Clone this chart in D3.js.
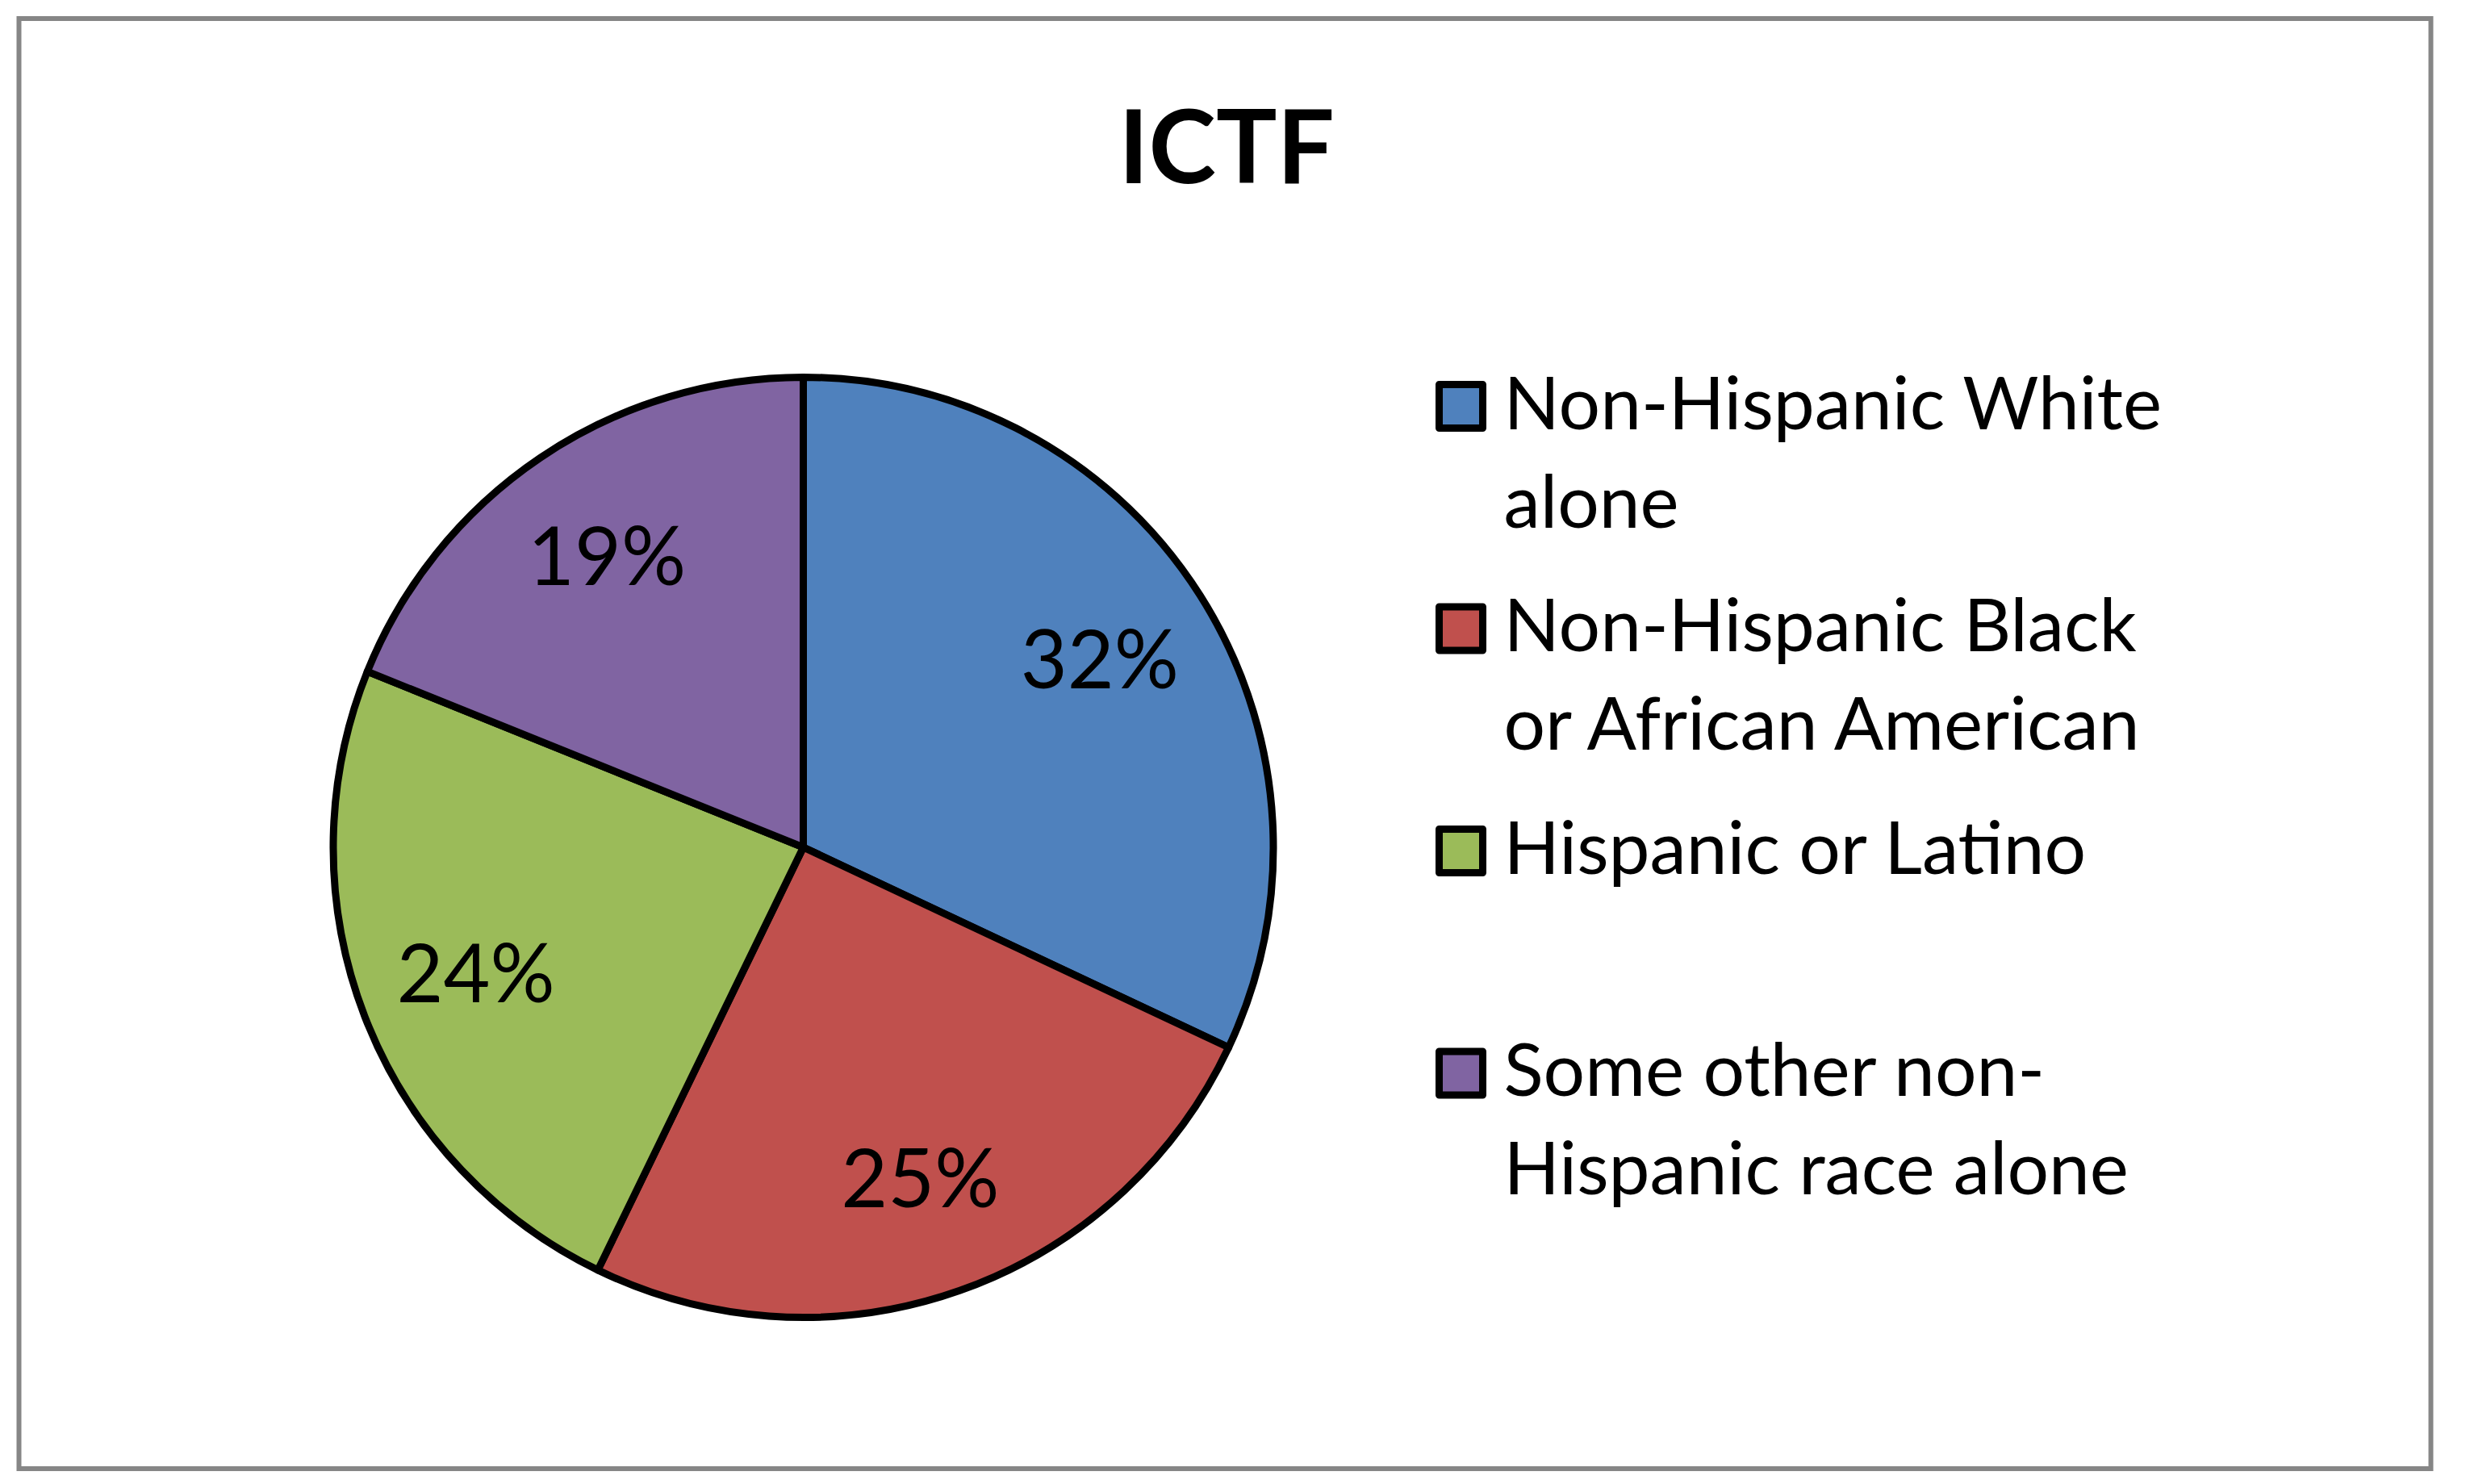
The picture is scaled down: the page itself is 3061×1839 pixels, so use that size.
<!DOCTYPE html>
<html lang="en">
<head>
    <meta charset="UTF-8">
    <title>ICTF</title>
    <script src="https://d3js.org/d3.v7.min.js"></script>
    <style>
        body { margin: 0; background: #fff; }
        text { font-family: Lato, "Open Sans", sans-serif; fill: #000; }
    </style>
</head>
<body>
    <svg width="3061" height="1839"></svg>
    <script>
        // data
        const title = 'ICTF';
        const categories = [
            'Non-Hispanic White alone',
            'Non-Hispanic Black or African American',
            'Hispanic or Latino',
            'Some other non-Hispanic race alone'
        ];
        const legendLines = [
            ['Non-Hispanic White', 'alone'],
            ['Non-Hispanic Black', 'or African American'],
            ['Hispanic or Latino'],
            ['Some other non-', 'Hispanic race alone']
        ];
        const shares = [32.0, 25.2, 23.9, 18.9];
        const colors = ['#4F81BD', '#C0504D', '#9BBB59', '#8064A2'];

        const svg = d3.select('svg');
        const data = categories.map((c, i) => ({ name: c, value: shares[i], lines: legendLines[i] }));
        const total = d3.sum(shares);
        const pct = d3.format('.0%');

        // chart area border
        svg.append('rect')
            .attr('x', 23.5).attr('y', 23)
            .attr('width', 2989).attr('height', 1797)
            .attr('fill', '#fff')
            .attr('stroke', '#868686')
            .attr('stroke-width', 6);

        svg.append('text')
            .attr('x', 1520).attr('y', 227)
            .attr('text-anchor', 'middle')
            .attr('font-size', 126)
            .attr('font-weight', 'bold')
            .text(title);

        const color = d3.scaleOrdinal().domain(categories).range(colors);
        const radius = 582.5;
        const pie = d3.pie().value(d => d.value).sort(null);
        const arc = d3.arc().innerRadius(0).outerRadius(radius);
        const labelArc = d3.arc().innerRadius(435).outerRadius(435);

        const g = svg.append('g').attr('transform', 'translate(995.5,1050)');
        const arcs = pie(data);

        g.selectAll('path')
            .data(arcs)
            .join('path')
            .attr('d', arc)
            .attr('fill', d => color(d.data.name))
            .attr('stroke', '#000')
            .attr('stroke-width', 9)
            .attr('stroke-linejoin', 'round');

        g.selectAll('text')
            .data(arcs)
            .join('text')
            .attr('transform', d => `translate(${labelArc.centroid(d)})`)
            .attr('text-anchor', 'middle')
            .attr('dy', '0.36em')
            .attr('font-size', 100)
            .text(d => pct(d.data.value / total));

        // legend
        const legend = svg.append('g').attr('transform', 'translate(1783.5,531.7)');
        const item = legend.selectAll('g')
            .data(data)
            .join('g')
            .attr('transform', (d, i) => `translate(0,${i * 275.5})`);

        item.append('rect')
            .attr('x', 0).attr('y', -55.2)
            .attr('width', 54).attr('height', 54)
            .attr('fill', d => color(d.name))
            .attr('stroke', '#000')
            .attr('stroke-width', 9)
            .attr('stroke-linejoin', 'round');

        item.each(function(d) {
            d3.select(this).selectAll('text')
                .data(d.lines)
                .join('text')
                .attr('x', 80)
                .attr('y', (l, j) => j * 122.3)
                .attr('font-size', 91)
                .text(l => l);
        });
    </script>
</body>
</html>
